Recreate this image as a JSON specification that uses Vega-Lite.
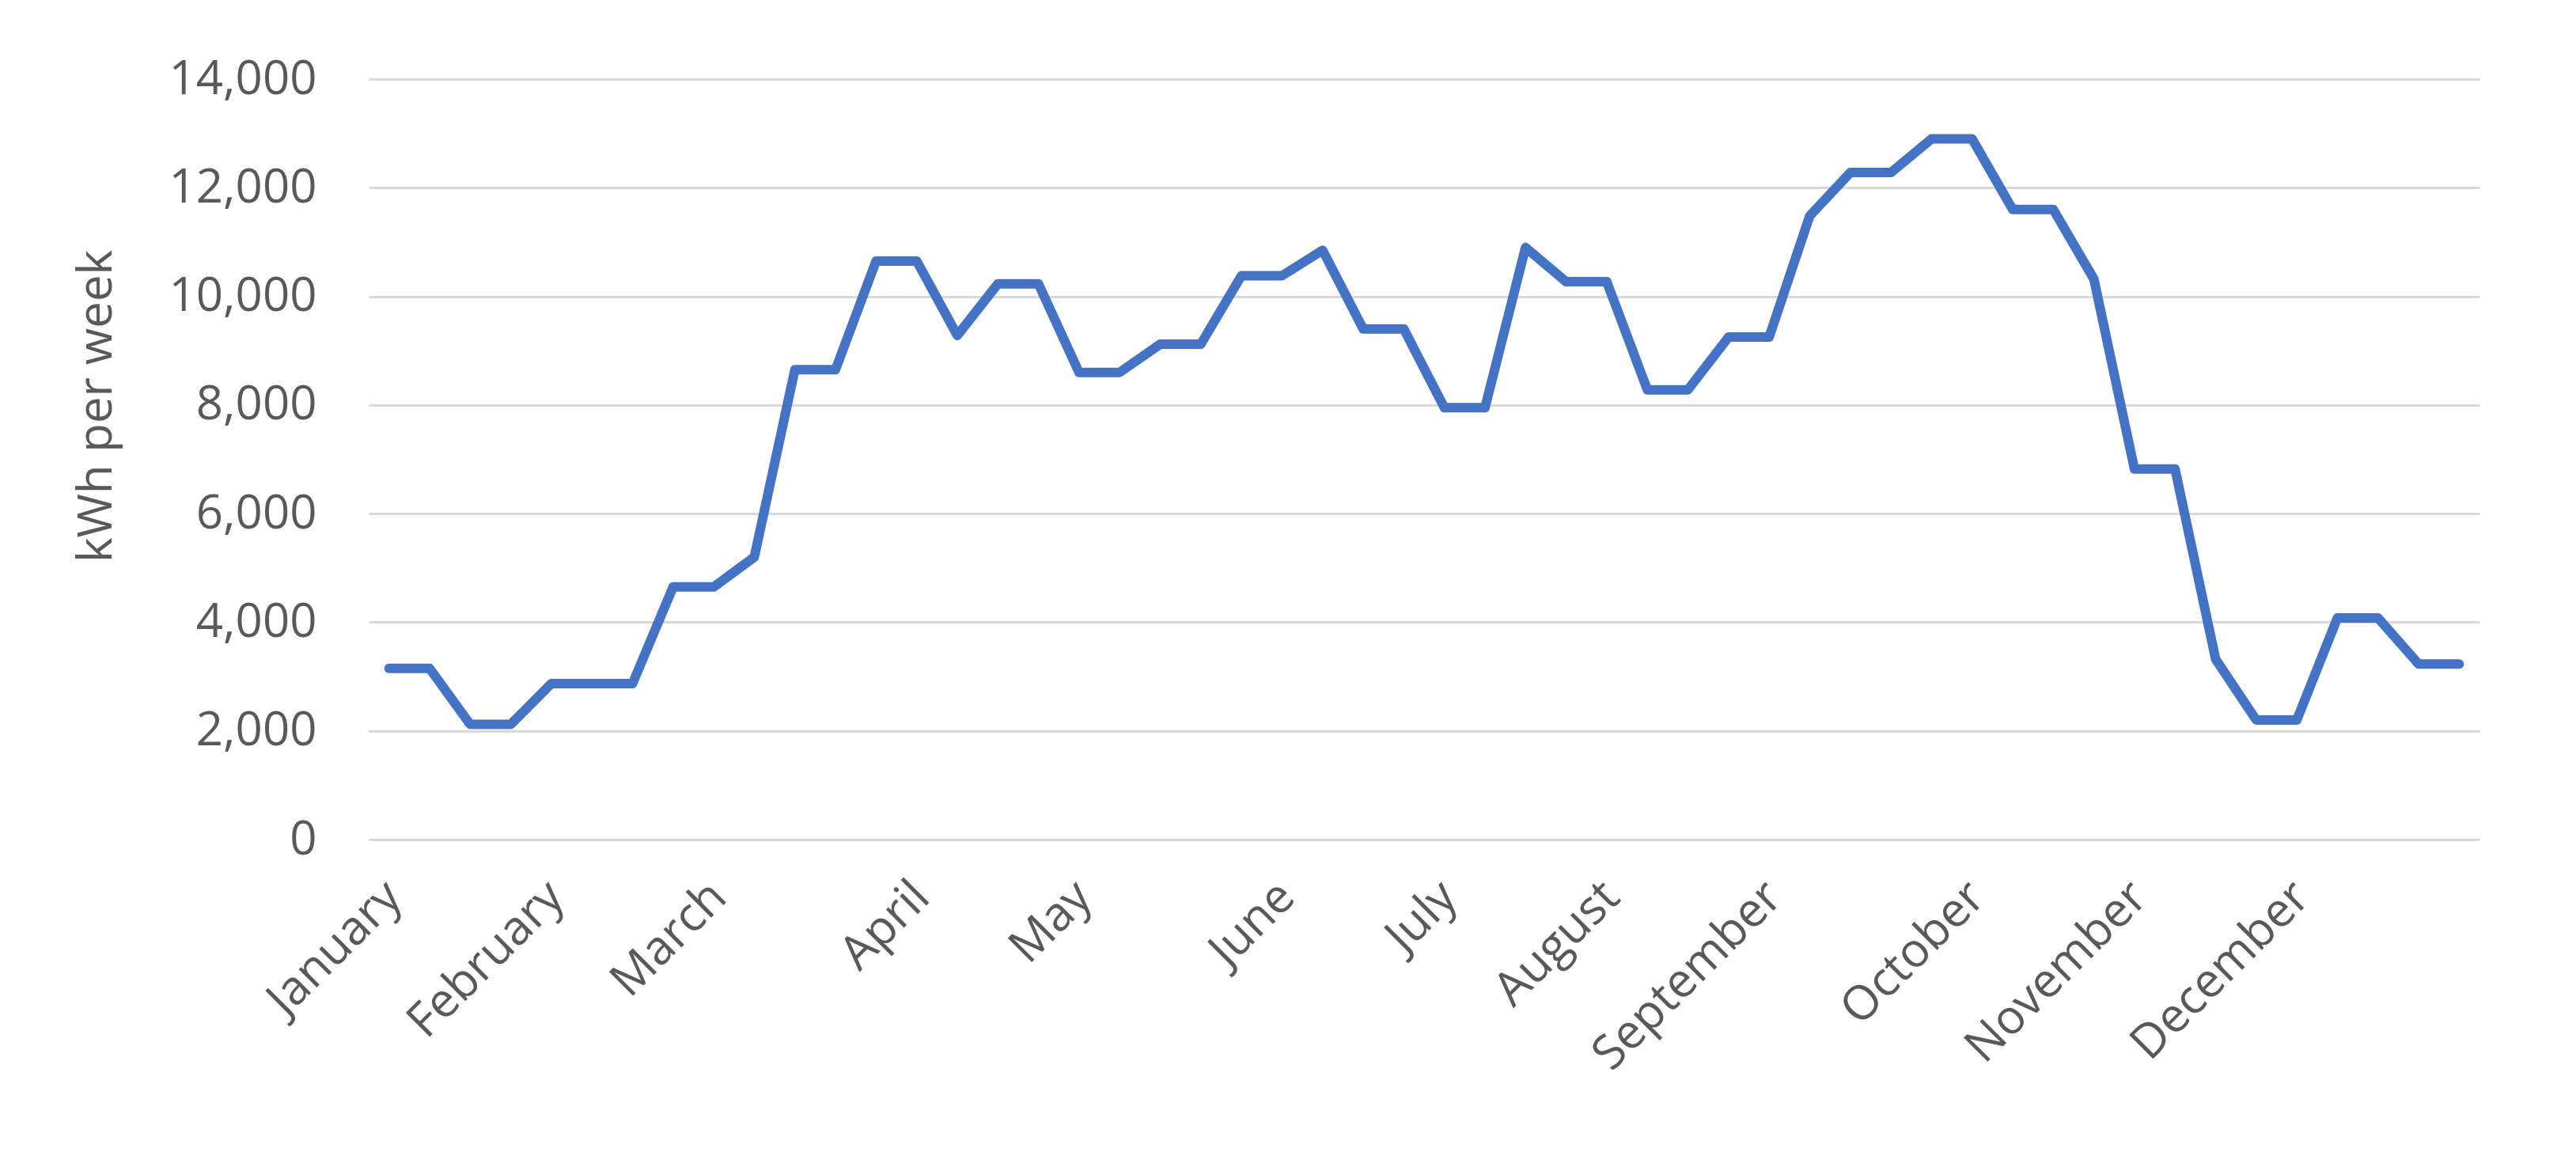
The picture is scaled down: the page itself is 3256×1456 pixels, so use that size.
{
  "$schema": "https://vega.github.io/schema/vega-lite/v6.json",
  "width": 2668,
  "height": 961,
  "autosize": "none",
  "padding": {"left": 466, "top": 100, "right": 122, "bottom": 395},
  "background": "white",
  "config": {"view": {"stroke": null}, "font": "Open Sans"},
  "data": {"values": [
    {"week": 1, "kwh": 3150}, {"week": 2, "kwh": 3150}, {"week": 3, "kwh": 2120}, {"week": 4, "kwh": 2120},
    {"week": 5, "kwh": 2870}, {"week": 6, "kwh": 2870}, {"week": 7, "kwh": 2870}, {"week": 8, "kwh": 4650},
    {"week": 9, "kwh": 4650}, {"week": 10, "kwh": 5200}, {"week": 11, "kwh": 8650}, {"week": 12, "kwh": 8650},
    {"week": 13, "kwh": 10650}, {"week": 14, "kwh": 10650}, {"week": 15, "kwh": 9280}, {"week": 16, "kwh": 10230},
    {"week": 17, "kwh": 10230}, {"week": 18, "kwh": 8600}, {"week": 19, "kwh": 8600}, {"week": 20, "kwh": 9120},
    {"week": 21, "kwh": 9120}, {"week": 22, "kwh": 10380}, {"week": 23, "kwh": 10380}, {"week": 24, "kwh": 10850},
    {"week": 25, "kwh": 9400}, {"week": 26, "kwh": 9400}, {"week": 27, "kwh": 7950}, {"week": 28, "kwh": 7950},
    {"week": 29, "kwh": 10900}, {"week": 30, "kwh": 10270}, {"week": 31, "kwh": 10270}, {"week": 32, "kwh": 8280},
    {"week": 33, "kwh": 8280}, {"week": 34, "kwh": 9250}, {"week": 35, "kwh": 9250}, {"week": 36, "kwh": 11480},
    {"week": 37, "kwh": 12280}, {"week": 38, "kwh": 12280}, {"week": 39, "kwh": 12900}, {"week": 40, "kwh": 12900},
    {"week": 41, "kwh": 11600}, {"week": 42, "kwh": 11600}, {"week": 43, "kwh": 10320}, {"week": 44, "kwh": 6820},
    {"week": 45, "kwh": 6820}, {"week": 46, "kwh": 3320}, {"week": 47, "kwh": 2200}, {"week": 48, "kwh": 2200},
    {"week": 49, "kwh": 4080}, {"week": 50, "kwh": 4080}, {"week": 51, "kwh": 3230}, {"week": 52, "kwh": 3230}
  ]},
  "mark": {"type": "line", "color": "#4472C4", "strokeWidth": 12, "strokeCap": "round", "strokeJoin": "round"},
  "encoding": {
    "x": {
      "field": "week", "type": "ordinal",
      "scale": {"type": "point", "padding": 0.5},
      "axis": {
        "title": null,
        "values": [1, 5, 9, 14, 18, 23, 27, 31, 35, 40, 44, 48],
        "labelExpr": "{'1':'January','5':'February','9':'March','14':'April','18':'May','23':'June','27':'July','31':'August','35':'September','40':'October','44':'November','48':'December'}[datum.value]",
        "labelAngle": -45, "labelAlign": "right", "labelBaseline": "middle",
        "labelFont": "Open Sans", "labelFontSize": 60, "labelColor": "#595959",
        "labelPadding": 63, "labelOffset": 6, "labelOverlap": false, "labelBound": false, "labelFlush": false, "labelLimit": 2000,
        "ticks": false, "domain": false, "grid": false
      }
    },
    "y": {
      "field": "kwh", "type": "quantitative",
      "scale": {"domain": [0, 14000], "nice": false},
      "axis": {
        "title": "kWh per week",
        "values": [0, 2000, 4000, 6000, 8000, 10000, 12000, 14000],
        "format": ",.0f",
        "labelFont": "Open Sans", "labelFontSize": 60, "labelColor": "#595959", "labelPadding": 66, "labelLimit": 2000,
        "ticks": false, "domain": false,
        "gridColor": "#d9d9d9", "gridWidth": 3,
        "titleFont": "Open Sans", "titleFontSize": 60, "titleColor": "#595959", "titleFontWeight": "normal",
        "titleAngle": -90, "titleAlign": "center", "titleBaseline": "alphabetic",
        "titleX": -326, "titleY": 413, "titleLimit": 2000
      }
    }
  }
}
